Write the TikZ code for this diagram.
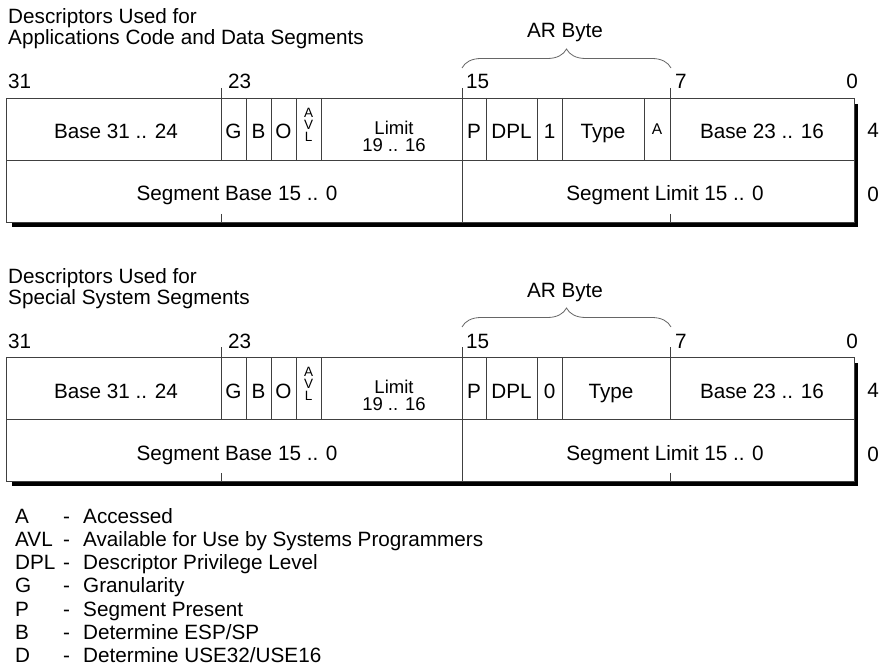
\documentclass[tikz,border=0pt]{standalone}
\usepackage{fontspec}
\setmainfont{Liberation Sans}
\usetikzlibrary{decorations.pathreplacing}
\begin{document}
\begin{tikzpicture}[x=1pt,y=-1pt,
    lbl/.style={inner sep=0pt,anchor=base,font=\fontsize{20.7}{24}\selectfont},
    sml/.style={inner sep=0pt,anchor=base,font=\fontsize{13.5}{14}\selectfont},
    rule/.style={black!75,line width=0.9pt}]
  \useasboundingbox (0,0) rectangle (885,668);
  \foreach \t/\oy/\bit/\tx/\head in {1/0/1/603/{Applications Code and Data Segments},2/259/0/611/{Special System Segments}}{
    \begin{scope}[shift={(0,\oy)}]
      \node[lbl,anchor=base west] (ta\t) at (8,24) {Descriptors Used for};
      \node[lbl,anchor=base west] (tb\t) at (8,45) {\head};
      \node[lbl] (ar\t) at (565,38) {AR Byte};
      \draw[decorate,decoration={brace,amplitude=19pt},black!60,line width=0.8pt] (462,68) -- (671,68);
      % bit numbers
      \node[lbl,anchor=base west] (n31\t) at (8,89) {31};
      \node[lbl,anchor=base west] (n23\t) at (228,89) {23};
      \node[lbl,anchor=base west] (n15\t) at (466,89) {15};
      \node[lbl,anchor=base west] (n7\t) at (675,89) {7};
      \node[lbl,anchor=base east] (n0\t) at (858,89) {0};
      % shadow and frame
      \fill (12,104) rectangle (858,227);
      \draw[rule,fill=white] (6,98) rectangle (854,222);
      \draw[rule] (6,160) -- (854,160);
      \foreach \x in {246,271,296,321,486,537,562}
        \draw[rule] (\x,98) -- (\x,160);
      \draw[rule] (221,88) -- (221,160) (670,88) -- (670,160) (462,88) -- (462,222);
      \draw[rule] (221,214) -- (221,222) (670,214) -- (670,222);
      % upper word
      \node[lbl] (bhi\t) at (116,139) {Base 31 .. 24};
      \node[lbl] (g\t) at (233.5,139) {G};
      \node[lbl] (b\t) at (258.5,139) {B};
      \node[lbl] (o\t) at (283.5,139) {O};
      \node[sml,anchor=center,align=center,font=\fontsize{13.5}{12}\selectfont] (avl\t) at (308.5,125) {A\\V\\L};
      \node[lbl,anchor=center,align=center,font=\fontsize{18.5}{17}\selectfont] (lim\t) at (394,136) {Limit\\19 .. 16};
      \node[lbl] (p\t) at (474,139) {P};
      \node[lbl] (dpl\t) at (511.5,139) {DPL};
      \node[lbl] (s\t) at (549.5,139) {\bit};
      \node[lbl] (type\t) at (\tx,139) {Type};
      \node[lbl] (bmid\t) at (762,139) {Base 23 .. 16};
      \node[lbl] (r4\t) at (873,138) {4};
      % lower word
      \node[lbl] (sbase\t) at (237,201) {Segment Base 15 .. 0};
      \node[lbl] (slim\t) at (665,201) {Segment Limit 15 .. 0};
      \node[lbl] (r0\t) at (873,202) {0};
    \end{scope}
  }
  % accessed bit, code and data only
  \draw[rule] (644,98) -- (644,160);
  \node[sml,font=\fontsize{15.5}{16}\selectfont] (acc) at (657,135) {A};
  % legend
  \foreach \k/\key/\txt in {0/A/Accessed,1/AVL/{Available for Use by Systems Programmers},2/DPL/{Descriptor Privilege Level},3/G/Granularity,4/P/{Segment Present},5/B/{Determine ESP/SP},6/D/{Determine USE32/USE16}}{
    \node[lbl,anchor=base west] (key\k) at (15,523+23.3*\k) {\key};
    \node[lbl,anchor=base west] (dash\k) at (63,523+23.3*\k) {-};
    \node[lbl,anchor=base west] (txt\k) at (83,523+23.3*\k) {\txt};
  }
\end{tikzpicture}
\end{document}
